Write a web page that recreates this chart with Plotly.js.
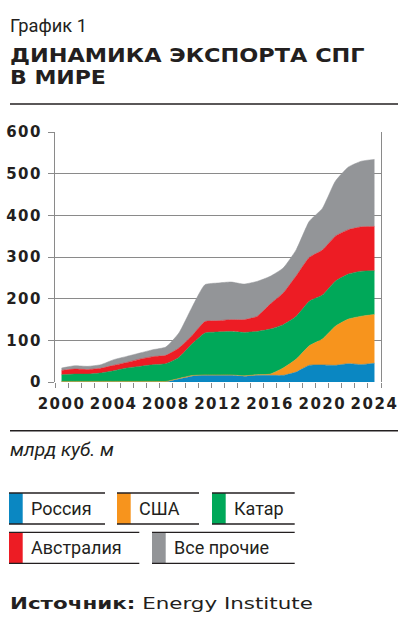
<!DOCTYPE html>
<html>
<head>
<meta charset="utf-8">
<script src="https://cdn.plot.ly/plotly-3.0.1.min.js"></script>
<style>
html,body{margin:0;padding:0;background:#fff;}
#chart{width:408px;height:623px;}
#chart .xtick text, #chart .ytick text{letter-spacing:1.5px;}
</style>
</head>
<body>
<div id="chart"></div>
<script>
// Data (млрд куб. м)
const years = [2000,2001,2002,2003,2004,2005,2006,2007,2008,2009,2010,2011,2012,2013,2014,2015,2016,2017,2018,2019,2020,2021,2022,2023,2024];
const russia    = [0,0,0,0,0,0,0,0,0,7,14,16,16,16,14,16,16,16,24,40,41,40,44,42,45];
const usa       = [1.5,1.5,1.5,1.5,1.5,1.5,1.5,1.5,1.5,1.5,1.5,1,1,1,1,1.5,3,17.6,31,47,62,94,107,116,117];
const qatar     = [16,17.5,17.5,20,25.5,32,36,40,42.5,50.5,75.5,100.6,103,104,104,104,108,104,102.6,106.6,105.6,108,108,108,105];
const australia = [10.4,12,11,11.4,13,13.4,17.4,19.4,20,22.6,20,27.4,27,28.6,30.6,36,60,76,97.4,105.4,108,108,106.6,106.4,106.4];
const others    = [5.6,8,7.6,8.6,13.6,14.6,14.6,16.6,20,36,68,88.6,90.6,90.4,85.4,84,66.6,60,62.6,86.6,100,132,150.4,157.6,160.8];
const seriesNames = ['Россия','США','Катар','Австралия','Все прочие'];
const colors = ['#0a87c2','#f7941d','#00a859','#ed1c24','#939598'];
const xTickVals = [2000,2004,2008,2012,2016,2020,2024];
const yTickVals = [0,100,200,300,400,500,600];

const values = [russia, usa, qatar, australia, others];
const traces = values.map((v,i)=>({
  x: years, y: v, name: seriesNames[i], type:'scatter', mode:'lines',
  stackgroup:'one', fill:'tonexty', fillcolor: colors[i],
  line:{width:0.5, color: colors[i], shape:'spline', smoothing:0.5},
  hoverinfo:'skip', showlegend:false
}));

const W=408, H=623, L=55, R=27, T=132, B=241;
const pw = W-L-R, ph = H-T-B;
const xp = px => (px-L)/pw;
const yp = py => (H-B-py)/ph;
const dark = '#231f20';

const annotations = [];
const fits = [];   // [left, width] to stretch a text horizontally, or null
const shapes = [];
function txt(text, px, py, size, family, fit=null){
  annotations.push({
    text, x: xp(px), y: yp(py), xref:'paper', yref:'paper',
    xanchor:'left', yanchor:'middle', align:'left', showarrow:false,
    font:{size, family, color: dark}
  });
  fits.push(fit);
}
function hline(x0,x1,y,w=1.4){
  shapes.push({type:'line', xref:'paper', yref:'paper', x0:xp(x0), x1:xp(x1), y0:yp(y), y1:yp(y), line:{color:dark, width:w}});
}
function rect(x0,x1,y0,y1,c){
  shapes.push({type:'rect', xref:'paper', yref:'paper', x0:xp(x0), x1:xp(x1), y0:yp(y0), y1:yp(y1), fillcolor:c, line:{width:0}});
}

txt('График 1', 8, 25, 18, 'Roboto, sans-serif', [10, 77]);
txt('<b>ДИНАМИКА ЭКСПОРТА СПГ</b>', 7, 55, 20, 'DejaVu Sans, sans-serif', [10, 355]);
txt('<b>В МИРЕ</b>', 7, 76.5, 20, 'DejaVu Sans, sans-serif', [10, 96]);
hline(10, 398, 104);
hline(10, 398, 430.7);
txt('<i>млрд куб. м</i>', 8, 449.5, 18, 'Roboto, sans-serif', [10, 104]);

// Legend
const legendItems = [
  {i:0, x0:9, x1:105, y0:493, y1:524},
  {i:1, x0:117, x1:199, y0:493, y1:524},
  {i:2, x0:212, x1:294.7, y0:493, y1:524},
  {i:3, x0:9, x1:139.3, y0:532.3, y1:563.3},
  {i:4, x0:152, x1:294.7, y0:532.3, y1:563.3}
];
legendItems.forEach(it=>{
  rect(it.x0, it.x0+13.7, it.y0, it.y1, colors[it.i]);
  hline(it.x0, it.x1, it.y0, 1.3);
  hline(it.x0, it.x1, it.y1, 1.3);
  txt(seriesNames[it.i], it.x0+19.5, (it.y0+it.y1)/2, 18, 'Roboto, sans-serif');
});

txt('<b>Источник:</b> Energy Institute', 7, 604, 15, 'DejaVu Sans, sans-serif', [10, 303]);

const layout = {
  width:W, height:H, margin:{l:L, r:R, t:T, b:B},
  paper_bgcolor:'#fff', plot_bgcolor:'#fff',
  xaxis:{
    range:[1999.5, 2024.5], tickmode:'array', tickvals:xTickVals,
    ticks:'', showgrid:false, zeroline:false, showline:false,
    tickfont:{family:'DejaVu Sans, sans-serif', size:15, color:dark, weight:'bold'},
    ticklabelstandoff:11,
    minor:{ticks:'outside', tick0:1999.5, dtick:1, ticklen:5, tickcolor:'#8a8a8a', tickwidth:1, showgrid:false}
  },
  yaxis:{
    range:[0,600], tickmode:'array', tickvals:yTickVals,
    ticks:'outside', ticklen:6, tickcolor:'#8a8a8a',
    showgrid:true, gridcolor:'#8a8a8a', gridwidth:1,
    zeroline:false, showline:true, linecolor:'#8a8a8a', linewidth:1, mirror:true,
    tickfont:{family:'DejaVu Sans, sans-serif', size:15, color:dark, weight:'bold'},
    ticklabelstandoff:3
  },
  annotations, shapes, showlegend:false
};
Plotly.newPlot('chart', traces, layout, {staticPlot:true, displayModeBar:false}).then(gd=>{
  const svgRect = gd.querySelector('svg.main-svg').getBoundingClientRect();
  gd.querySelectorAll('.annotation').forEach(g=>{
    const idx = +g.getAttribute('data-index');
    const fit = fits[idx];
    if(!fit) return;
    const t = g.querySelector('text');
    if(!t) return;
    const r = t.getBoundingClientRect();
    if(!r.width) return;
    const lx = r.left - svgRect.left;
    const s = fit[1] / r.width;
    g.setAttribute('transform', `translate(${fit[0]},0) scale(${s},1) translate(${-lx},0)`);
  });
});
</script>
</body>
</html>
